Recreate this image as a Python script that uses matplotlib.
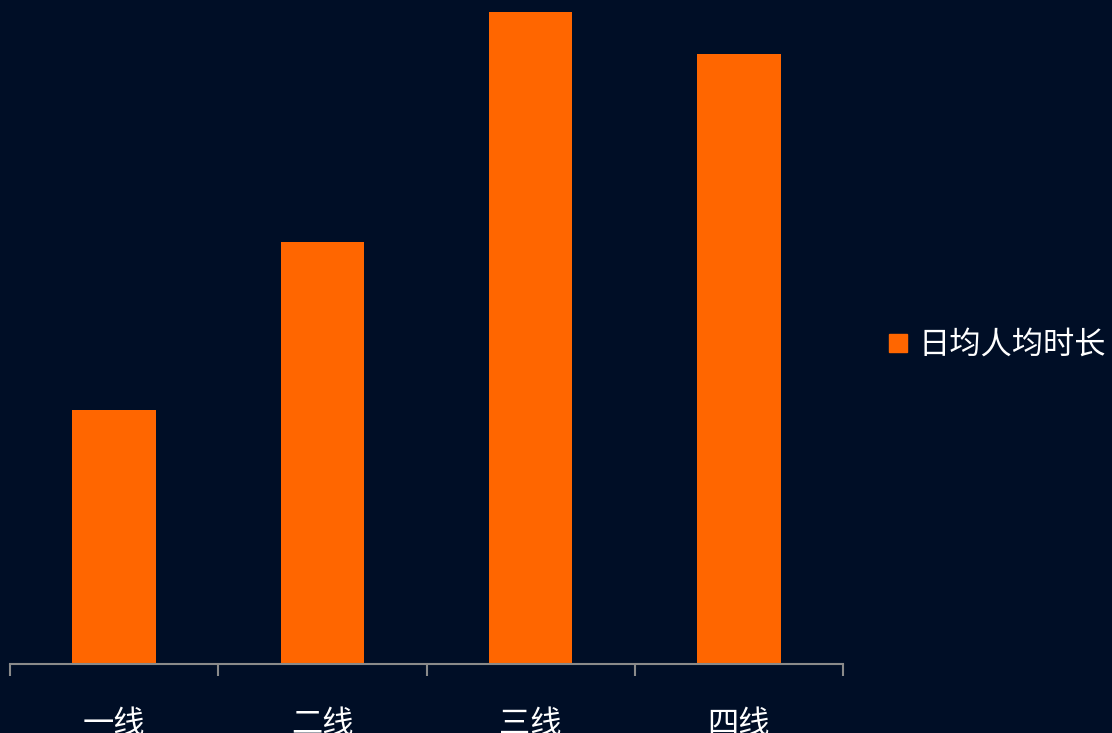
import matplotlib.pyplot as plt
from matplotlib.lines import Line2D

plt.rcParams['font.family'] = ['Noto Sans CJK SC', 'DejaVu Sans']

categories = ["一线", "二线", "三线", "四线"]
values = [25.4, 42.2, 65.2, 61.0]
series_name = "日均人均时长"

bg = "#000e26"
bar_color = "#ff6600"

fig = plt.figure(figsize=(11.12, 7.33), dpi=100, facecolor=bg)
ax = fig.add_axes([10 / 1112, 1 - 664 / 733, 833 / 1112, 664 / 733])
ax.set_facecolor(bg)

x = range(len(categories))
ax.bar(x, values, width=0.4, color=bar_color, zorder=2)
ax.set_xlim(-0.5, len(categories) - 0.5)
ax.set_ylim(0, 66.4)

for side in ["top", "right", "left"]:
    ax.spines[side].set_visible(False)
ax.spines["bottom"].set_color("#8a8a8a")
ax.spines["bottom"].set_linewidth(1.5)
ax.set_yticks([])

# boundary ticks between categories, labels centred on the bars
ax.set_xticks([i - 0.5 for i in range(len(categories) + 1)])
ax.set_xticklabels([])
ax.tick_params(axis="x", length=8.5, width=1.5, color="#8a8a8a")
ax.set_xticks(list(x), minor=True)
ax.set_xticklabels(categories, minor=True, color="white", fontsize=22.5)
ax.tick_params(axis="x", which="minor", length=0, pad=32)

handle = Line2D([], [], marker="s", linestyle="none", color=bar_color, markersize=13)
fig.legend([handle], [series_name], loc="center left",
           bbox_to_anchor=(889 / 1112, 1 - 345 / 733), frameon=False,
           fontsize=22.5, labelcolor="white", handletextpad=0.35,
           handlelength=0.6, borderpad=0, borderaxespad=0)

fig.savefig("out.png", dpi=100, facecolor=bg)
